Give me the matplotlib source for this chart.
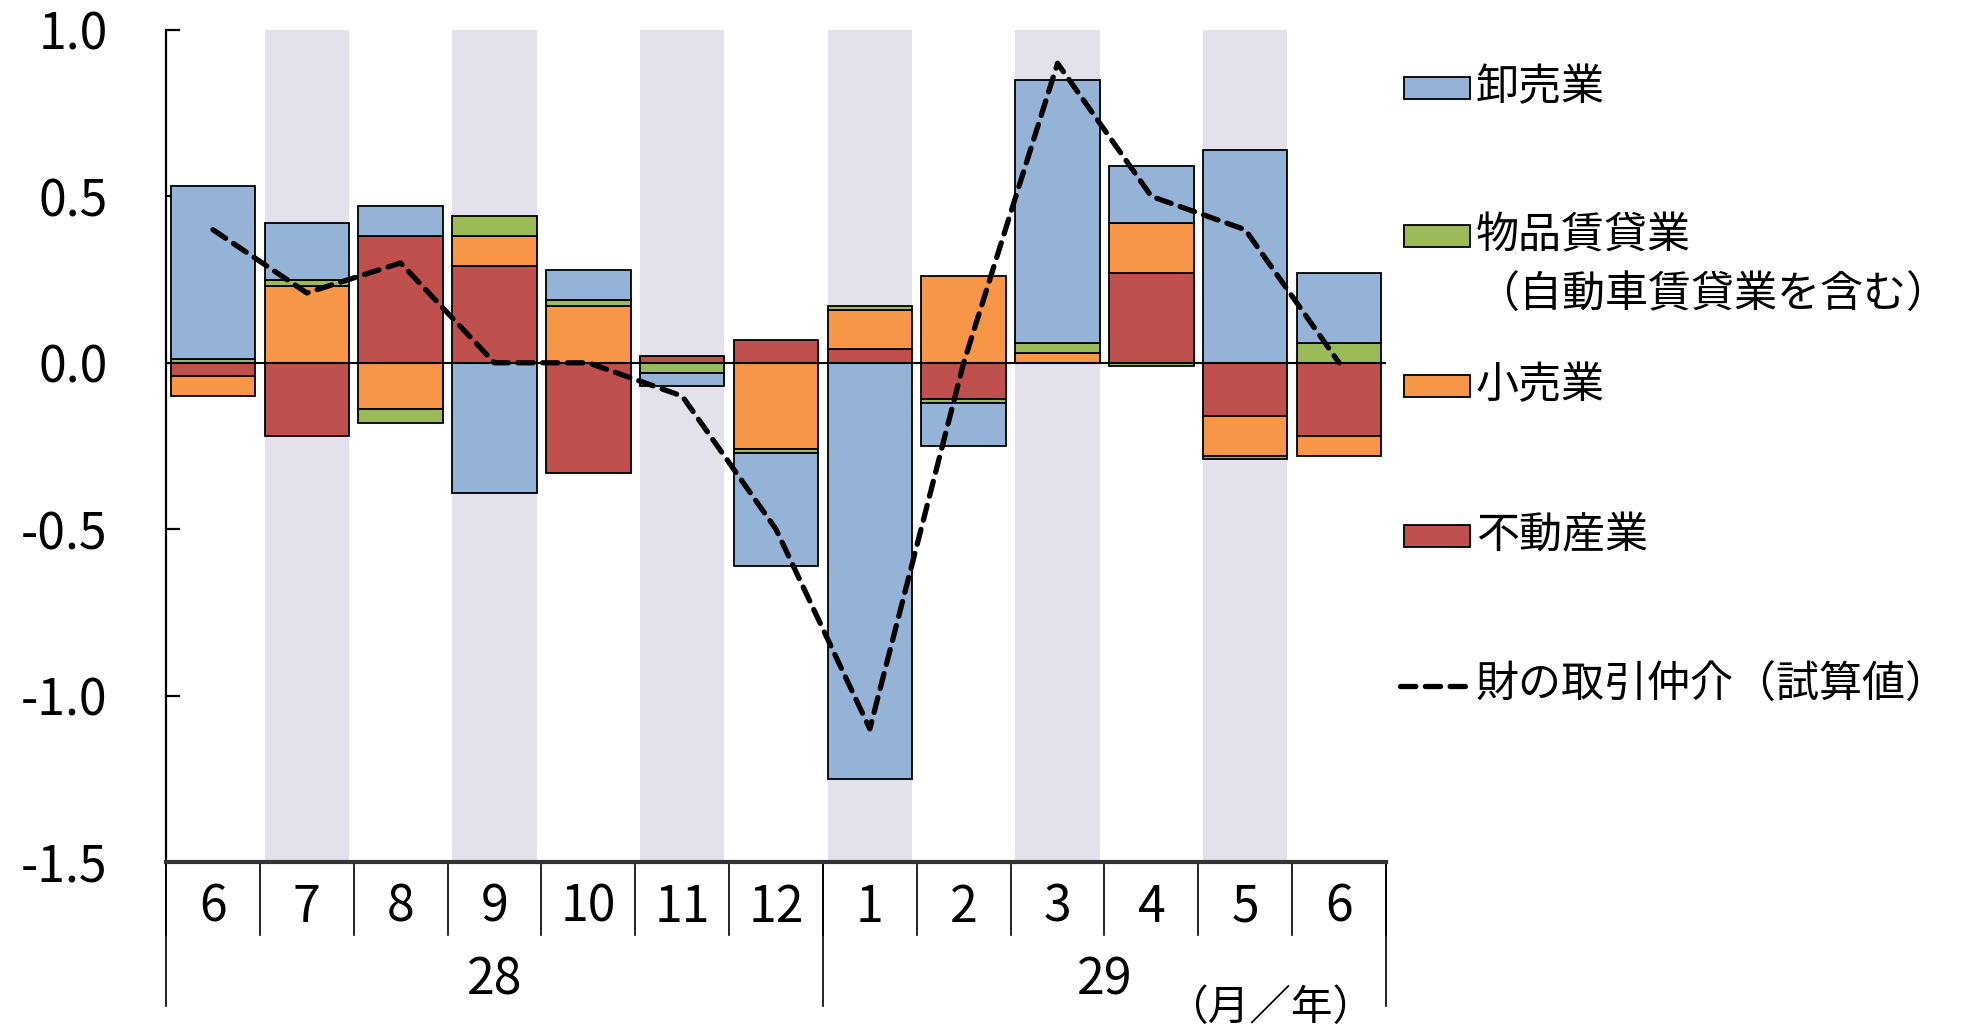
import matplotlib
matplotlib.use("Agg")
import matplotlib.pyplot as plt
import matplotlib.transforms as mtransforms
import numpy as np

# ---- データ (寄与度, %ポイント) ----
months = ["6", "7", "8", "9", "10", "11", "12", "1", "2", "3", "4", "5", "6"]
years = ["28", "29"]
year_span = [(0, 6), (7, 12)]

wholesale = [0.52, 0.17, 0.09, -0.39, 0.09, -0.04, -0.34, -1.25, -0.13, 0.79, 0.17, 0.64, 0.21]
rental = [0.01, 0.02, -0.04, 0.06, 0.02, -0.03, -0.01, 0.01, -0.01, 0.03, -0.01, -0.01, 0.06]
retail = [-0.06, 0.23, -0.14, 0.09, 0.17, 0.0, -0.26, 0.12, 0.26, 0.03, 0.15, -0.12, -0.06]
realestate = [-0.04, -0.22, 0.38, 0.29, -0.33, 0.02, 0.07, 0.04, -0.11, 0.0, 0.27, -0.16, -0.22]
total = [0.40, 0.21, 0.30, 0.0, 0.0, -0.10, -0.50, -1.10, 0.0, 0.90, 0.50, 0.40, 0.0]

yticks = [1.0, 0.5, 0.0, -0.5, -1.0, -1.5]

C_BLUE = "#95B3D7"
C_GREEN = "#9BBB59"
C_ORANGE = "#F79646"
C_RED = "#C0504D"
C_BAND = "#E4E0EC"

JP = "Noto Sans CJK JP"
plt.rcParams["font.family"] = [JP, "DejaVu Sans"]

W, H = 1963, 1035
fig = plt.figure(figsize=(W / 100, H / 100), dpi=100)
ax = fig.add_axes([166 / W, 1 - 862 / H, (1386 - 166) / W, (862 - 30) / H])

x = np.arange(len(months))
ax.set_xlim(-0.5, len(months) - 0.5)
ax.set_ylim(-1.5, 1.0)

# 背景の縞
for i in range(1, len(months), 2):
    ax.axvspan(i - 0.45, i + 0.45, color=C_BAND, lw=0, zorder=0)

# 積み上げ棒 (下から 不動産 → 小売 → 物品賃貸 → 卸売)
pos = np.zeros(len(months))
neg = np.zeros(len(months))
for vals, col in [(realestate, C_RED), (retail, C_ORANGE), (rental, C_GREEN), (wholesale, C_BLUE)]:
    v = np.array(vals)
    for i in range(len(v)):
        if v[i] == 0:
            continue
        if v[i] > 0:
            ax.bar(x[i], v[i], bottom=pos[i], width=0.9, color=col,
                   edgecolor="black", linewidth=1.3, zorder=2)
            pos[i] += v[i]
        else:
            ax.bar(x[i], v[i], bottom=neg[i], width=0.9, color=col,
                   edgecolor="black", linewidth=1.3, zorder=2)
            neg[i] += v[i]

ax.axhline(0, color="black", lw=1.5, zorder=3)

ax.plot(x, total, color="black", lw=3.8, linestyle=(0, (2.9, 1.8)),
        dash_capstyle="round", zorder=4)

# 軸
for s in ["top", "right"]:
    ax.spines[s].set_visible(False)
ax.spines["left"].set_linewidth(1.6)
ax.spines["bottom"].set_linewidth(3)
ax.spines["bottom"].set_color("#333333")
ax.set_yticks(yticks)
ax.set_yticklabels([f"{t:.1f}" for t in yticks], fontsize=36)
ax.tick_params(axis="y", direction="in", length=10, width=1.6, pad=42)
ax.set_xticks([])

# 月・年のラベル
trans = mtransforms.blended_transform_factory(ax.transData, ax.transAxes)
for i, m in enumerate(months):
    ax.text(i, -0.055, m, transform=trans, ha="center", va="center", fontsize=36)
for b in np.arange(-0.5, len(months), 1.0):
    ax.plot([b, b], [0, -0.088], transform=trans, color="black", lw=1.2, clip_on=False)
for yr, (a, b) in zip(years, year_span):
    ax.text((a + b) / 2, -0.143, yr, transform=trans, ha="center", va="center", fontsize=36)
for b in [-0.5, 6.5, 12.5]:
    ax.plot([b, b], [0, -0.173], transform=trans, color="black", lw=1.2, clip_on=False)
fig.text(1270 / W, 1 - 1008 / H, "（月／年）", ha="center", va="center", fontsize=30)

# 凡例
leg = [(C_BLUE, "卸売業", 88), (C_GREEN, "物品賃貸業", 236),
       (C_ORANGE, "小売業", 386), (C_RED, "不動産業", 536)]
for col, lab, yy in leg:
    fig.patches.append(plt.Rectangle((1404 / W, 1 - (yy + 11) / H), 66 / W, 22 / H,
                                     transform=fig.transFigure, facecolor=col,
                                     edgecolor="black", lw=1.3))
    fig.text(1476 / W, 1 - yy / H, lab, ha="left", va="center", fontsize=31)
fig.text(1476 / W, 1 - 296 / H, "（自動車賃貸業を含む）", ha="left", va="center", fontsize=31)
fig.lines.append(plt.Line2D([1400 / W, 1470 / W], [1 - 686 / H, 1 - 686 / H],
                            transform=fig.transFigure, color="black", lw=3.8,
                            linestyle=(0, (2.9, 1.8)), dash_capstyle="round"))
fig.text(1476 / W, 1 - 686 / H, "財の取引仲介（試算値）", ha="left", va="center", fontsize=31)

fig.savefig("out.png", dpi=100)
